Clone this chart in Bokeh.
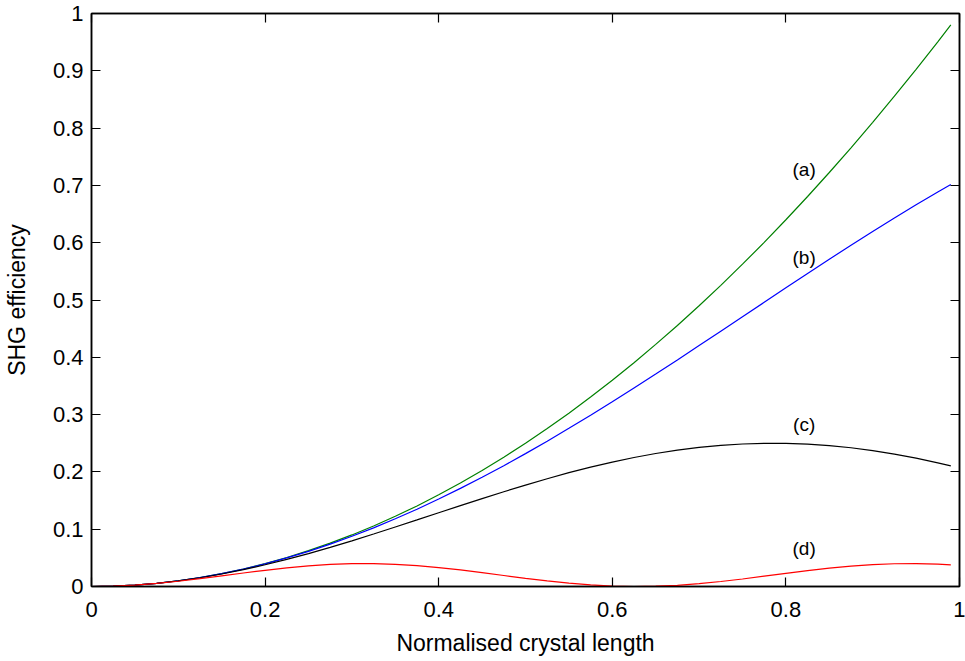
from bokeh.plotting import figure
from bokeh.models import Range1d, FixedTicker, LinearAxis, ColumnDataSource
from bokeh.core.properties import value
from bokeh.embed import file_html
from bokeh.resources import INLINE

# ---- data ----
x = [0.0, 0.025, 0.05, 0.075, 0.1, 0.125, 0.15, 0.175, 0.2, 0.225, 0.25, 0.275,
     0.3, 0.325, 0.35, 0.375, 0.4, 0.425, 0.45, 0.475, 0.5, 0.525, 0.55, 0.575,
     0.6, 0.625, 0.65, 0.675, 0.7, 0.725, 0.75, 0.775, 0.8, 0.825, 0.85, 0.875,
     0.9, 0.925, 0.95, 0.975, 0.99]

curve_a = [0.0, 0.0006, 0.0025, 0.0056, 0.0100, 0.0156, 0.0225, 0.0306, 0.0400, 0.0506,
           0.0625, 0.0756, 0.0900, 0.1056, 0.1225, 0.1406, 0.1600, 0.1806, 0.2025, 0.2256,
           0.2500, 0.2756, 0.3025, 0.3306, 0.3600, 0.3906, 0.4225, 0.4556, 0.4900, 0.5256,
           0.5625, 0.6006, 0.6400, 0.6806, 0.7225, 0.7656, 0.8100, 0.8556, 0.9025, 0.9506,
           0.9801]

curve_b = [0.0, 0.0006, 0.0025, 0.0056, 0.0100, 0.0156, 0.0224, 0.0304, 0.0395, 0.0499,
           0.0614, 0.0740, 0.0877, 0.1024, 0.1182, 0.1349, 0.1526, 0.1712, 0.1906, 0.2109,
           0.2319, 0.2536, 0.2760, 0.2989, 0.3224, 0.3464, 0.3707, 0.3954, 0.4204, 0.4455,
           0.4707, 0.4960, 0.5212, 0.5463, 0.5711, 0.5956, 0.6197, 0.6433, 0.6663, 0.6886,
           0.7015]

curve_c = [0.0, 0.0006, 0.0025, 0.0056, 0.0099, 0.0153, 0.0218, 0.0294, 0.0379, 0.0473,
           0.0575, 0.0683, 0.0797, 0.0916, 0.1038, 0.1162, 0.1287, 0.1411, 0.1534, 0.1654,
           0.1770, 0.1881, 0.1986, 0.2083, 0.2172, 0.2251, 0.2321, 0.2380, 0.2428, 0.2464,
           0.2487, 0.2499, 0.2498, 0.2484, 0.2458, 0.2421, 0.2371, 0.2310, 0.2239, 0.2157,
           0.2104]

curve_d = [0.0, 0.0006, 0.0025, 0.0054, 0.0092, 0.0137, 0.0186, 0.0236, 0.0283, 0.0326,
           0.0360, 0.0385, 0.0398, 0.0399, 0.0387, 0.0364, 0.0331, 0.0289, 0.0242, 0.0192,
           0.0143, 0.0098, 0.0058, 0.0028, 0.0008, 0.0000, 0.0005, 0.0021, 0.0049, 0.0087,
           0.0131, 0.0180, 0.0229, 0.0276, 0.0320, 0.0357, 0.0382, 0.0397, 0.0399, 0.0389,
           0.0378]

label_text = ["(a)", "(b)", "(c)", "(d)"]
label_x = [0.821, 0.821, 0.821, 0.821]
label_y = [0.727, 0.574, 0.282, 0.066]

x_ticks = [0, 0.2, 0.4, 0.6, 0.8, 1]
x_tick_labels = ["0", "0.2", "0.4", "0.6", "0.8", "1"]
y_ticks = [0, 0.1, 0.2, 0.3, 0.4, 0.5, 0.6, 0.7, 0.8, 0.9, 1]
y_tick_labels = ["0", "0.1", "0.2", "0.3", "0.4", "0.5", "0.6", "0.7", "0.8", "0.9", "1"]

FONT = "Liberation Sans"

p = figure(width=965, height=660, output_backend="svg", toolbar_location=None,
           x_range=Range1d(0, 1), y_range=Range1d(0, 1),
           min_border_left=91, min_border_right=6, min_border_top=13, min_border_bottom=74)
p.background_fill_color = "white"
p.border_fill_color = "white"
p.grid.visible = False
p.outline_line_color = "black"
p.outline_line_width = 1.5

src = ColumnDataSource(dict(x=x, a=curve_a, b=curve_b, c=curve_c, d=curve_d))
p.line("x", "a", source=src, line_color="#008000", line_width=1.2)
p.line("x", "b", source=src, line_color="#0000ff", line_width=1.2)
p.line("x", "c", source=src, line_color="black", line_width=1.2)
p.line("x", "d", source=src, line_color="#ff0000", line_width=1.2)

p.text(x=label_x, y=label_y, text=label_text, text_align="center", text_baseline="middle",
       text_font=value(FONT), text_font_size="19px", text_color="black")


def style_axis(ax, ticks, labels, show_labels=True):
    ax.ticker = FixedTicker(ticks=ticks)
    ax.major_label_overrides = {t: l for t, l in zip(ticks, labels)} if show_labels else {t: "" for t in ticks}
    ax.major_tick_in = 9
    ax.major_tick_out = 0
    ax.minor_tick_line_color = None
    ax.major_tick_line_color = "black"
    ax.major_tick_line_width = 1.2
    ax.axis_line_color = "black"
    ax.axis_line_width = 1.5
    ax.major_label_text_font = FONT
    ax.major_label_text_font_size = "22px" if show_labels else "0px"
    ax.major_label_text_color = "black"
    ax.axis_label_text_font = FONT
    ax.axis_label_text_font_size = "23px"
    ax.axis_label_text_font_style = "normal"
    ax.axis_label_text_color = "black"


style_axis(p.xaxis[0], x_ticks, x_tick_labels)
p.xaxis[0].axis_label = "Normalised crystal length"
p.xaxis[0].major_label_standoff = 15
p.xaxis[0].axis_label_standoff = 10

style_axis(p.yaxis[0], y_ticks, y_tick_labels)
p.yaxis[0].axis_label = "SHG efficiency"
p.yaxis[0].major_label_standoff = 8
p.yaxis[0].axis_label_standoff = 20

top_axis = LinearAxis()
style_axis(top_axis, x_ticks, x_tick_labels, show_labels=False)
top_axis.major_label_standoff = 0
top_axis.axis_label_standoff = 0
p.add_layout(top_axis, "above")

right_axis = LinearAxis()
style_axis(right_axis, y_ticks, y_tick_labels, show_labels=False)
right_axis.major_label_standoff = 0
right_axis.axis_label_standoff = 0
p.add_layout(right_axis, "right")

open("out.html", "w").write(file_html(p, INLINE))
